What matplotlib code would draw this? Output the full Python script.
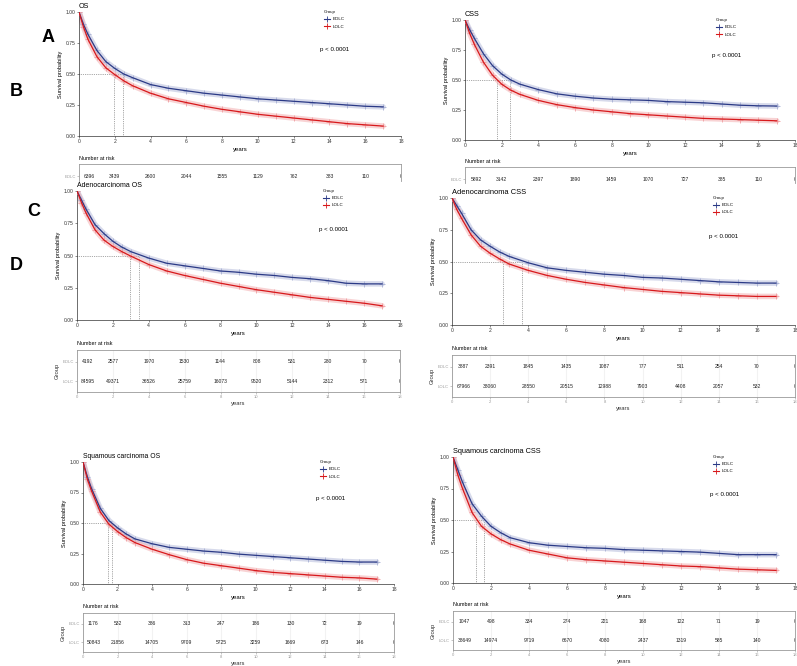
import matplotlib.pyplot as plt
from matplotlib.lines import Line2D

plt.rcParams['font.family'] = ['Liberation Sans', 'DejaVu Sans']

W, H = 797, 666

times = [0, 0.25, 0.5, 1, 1.5, 2, 2.5, 3, 4, 5, 6, 7, 8, 9, 10, 11, 12, 13, 14, 15, 16, 17]

os_eolc = [1.0, 0.90, 0.82, 0.69, 0.60, 0.545, 0.50, 0.47, 0.415, 0.385, 0.365, 0.345, 0.33, 0.315, 0.30, 0.29, 0.28, 0.27, 0.26, 0.25, 0.24, 0.235]
os_lolc = [1.0, 0.88, 0.78, 0.64, 0.55, 0.495, 0.445, 0.405, 0.345, 0.30, 0.27, 0.24, 0.215, 0.195, 0.175, 0.16, 0.145, 0.13, 0.115, 0.10, 0.09, 0.08]
css_eolc = [1.0, 0.92, 0.85, 0.72, 0.62, 0.55, 0.50, 0.465, 0.42, 0.385, 0.365, 0.35, 0.34, 0.335, 0.33, 0.32, 0.315, 0.31, 0.30, 0.29, 0.285, 0.283]
css_lolc = [1.0, 0.89, 0.80, 0.65, 0.54, 0.465, 0.415, 0.38, 0.33, 0.295, 0.27, 0.25, 0.235, 0.22, 0.21, 0.20, 0.19, 0.18, 0.175, 0.17, 0.165, 0.16]
adeno_os_eolc = [1.0, 0.93, 0.86, 0.74, 0.67, 0.61, 0.565, 0.53, 0.48, 0.44, 0.42, 0.40, 0.38, 0.37, 0.355, 0.345, 0.33, 0.32, 0.305, 0.285, 0.28, 0.28]
adeno_os_lolc = [1.0, 0.91, 0.83, 0.70, 0.62, 0.57, 0.53, 0.495, 0.43, 0.38, 0.345, 0.315, 0.285, 0.26, 0.235, 0.215, 0.195, 0.175, 0.16, 0.145, 0.13, 0.11]
adeno_css_eolc = [1.0, 0.94, 0.88, 0.75, 0.67, 0.62, 0.575, 0.54, 0.49, 0.45, 0.43, 0.415, 0.40, 0.39, 0.375, 0.37, 0.36, 0.35, 0.34, 0.335, 0.33, 0.33]
adeno_css_lolc = [1.0, 0.91, 0.84, 0.71, 0.62, 0.565, 0.52, 0.48, 0.43, 0.39, 0.36, 0.335, 0.315, 0.295, 0.28, 0.265, 0.255, 0.245, 0.235, 0.23, 0.225, 0.225]
sq_os_eolc = [1.0, 0.88, 0.78, 0.62, 0.52, 0.46, 0.41, 0.37, 0.33, 0.30, 0.285, 0.27, 0.26, 0.245, 0.235, 0.225, 0.215, 0.205, 0.195, 0.185, 0.18, 0.18]
sq_os_lolc = [1.0, 0.86, 0.76, 0.59, 0.49, 0.43, 0.38, 0.34, 0.285, 0.24, 0.20, 0.17, 0.15, 0.13, 0.11, 0.095, 0.085, 0.075, 0.065, 0.055, 0.05, 0.04]
sq_css_eolc = [1.0, 0.90, 0.80, 0.63, 0.53, 0.45, 0.40, 0.36, 0.32, 0.30, 0.29, 0.28, 0.275, 0.265, 0.26, 0.255, 0.25, 0.245, 0.235, 0.225, 0.225, 0.225]
sq_css_lolc = [1.0, 0.86, 0.75, 0.56, 0.45, 0.39, 0.345, 0.31, 0.26, 0.23, 0.20, 0.185, 0.175, 0.165, 0.155, 0.145, 0.135, 0.13, 0.12, 0.11, 0.105, 0.10]

# median survival (EOLC, LOLC)
os_med = [2.46, 1.96]
css_med = [2.47, 1.73]
adeno_os_med = [3.47, 2.93]
adeno_css_med = [3.68, 2.68]
sq_os_med = [1.68, 1.43]
sq_css_med = [1.63, 1.23]

# number at risk at 0, 2, 4, ..., 18 years
risk_times = [0, 2, 4, 6, 8, 10, 12, 14, 16, 18]
os_risk_e = [6396, 3439, 2600, 2044, 1555, 1129, 762, 383, 110, 0]
css_risk_e = [5892, 3142, 2397, 1890, 1459, 1070, 727, 385, 110, 0]
adeno_os_risk_e = [4192, 2577, 1970, 1530, 1144, 808, 531, 280, 70, 0]
adeno_os_risk_l = [84595, 49371, 36526, 25759, 16073, 9520, 5144, 2312, 571, 0]
adeno_css_risk_e = [3887, 2391, 1845, 1435, 1087, 777, 511, 254, 70, 0]
adeno_css_risk_l = [67966, 38060, 28550, 20515, 12988, 7903, 4408, 2057, 532, 0]
sq_os_risk_e = [1176, 532, 386, 313, 247, 186, 130, 72, 19, 0]
sq_os_risk_l = [50843, 21856, 14705, 9709, 5725, 3259, 1669, 673, 146, 0]
sq_css_risk_e = [1047, 498, 334, 274, 221, 168, 122, 71, 19, 0]
sq_css_risk_l = [38649, 14974, 9719, 6670, 4080, 2437, 1319, 585, 140, 0]

groups = ['EOLC', 'LOLC']
BLUE = '#2b3a86'
RED = '#d7191c'
BLUE_L = '#a7afd4'
RED_L = '#f09ea1'
GREY = '#555555'


def rect(l, t, r, b):
    return [l / W, 1 - b / H, (r - l) / W, (b - t) / H]


def km(fig, box, title, tsize, s_e, s_l, med):
    ax = fig.add_axes(rect(*box))
    for s, c, cl in [(s_e, BLUE, BLUE_L), (s_l, RED, RED_L)]:
        ax.plot(times, s, color=cl, lw=4, alpha=0.45, solid_capstyle='round', zorder=2)
        ax.plot(times, s, ls='none', marker='+', ms=5, mew=0.6, color=cl, zorder=3)
        ax.plot(times, s, color=c, lw=0.9, zorder=4)
    ax.plot([0, max(med)], [0.5, 0.5], ls=':', lw=0.5, color=GREY, zorder=1)
    for m in med:
        ax.plot([m, m], [0, 0.5], ls=':', lw=0.5, color=GREY, zorder=1)
    ax.set_xlim(0, 18)
    ax.set_ylim(0, 1)
    ax.set_xticks(range(0, 19, 2))
    ax.set_yticks([0, 0.25, 0.5, 0.75, 1.0])
    ax.set_yticklabels(['0.00', '0.25', '0.50', '0.75', '1.00'])
    for sp in ['top', 'right']:
        ax.spines[sp].set_visible(False)
    for sp in ['left', 'bottom']:
        ax.spines[sp].set_linewidth(0.5)
        ax.spines[sp].set_color('#333333')
    ax.tick_params(labelsize=3.6, length=1.5, width=0.4, pad=1, colors='#333333')
    ax.set_xlabel('years', fontsize=4.3, labelpad=1.5)
    ax.set_ylabel('Survival probability', fontsize=4.1, labelpad=2)
    ax.text(0, 1.0 + 2.0 / (box[3] - box[1]), title, transform=ax.transAxes, fontsize=tsize,
            ha='left', va='bottom')
    handles = [Line2D([], [], color=BLUE, marker='+', ms=4, mew=0.6, lw=0.8),
               Line2D([], [], color=RED, marker='+', ms=4, mew=0.6, lw=0.8)]
    leg = ax.legend(handles, groups, title='Group', loc='upper left', bbox_to_anchor=(0.755, 1.03),
                    frameon=False, fontsize=3.2, title_fontsize=3.2, handlelength=1.4,
                    labelspacing=0.7, handletextpad=0.6, borderaxespad=0)
    leg._legend_box.align = 'left'
    ax.text(0.75, 0.70, 'p < 0.0001', transform=ax.transAxes, fontsize=4.4, ha='left', va='center')
    return ax


def risk(fig, box, r_e, r_l, partial=False):
    ax = fig.add_axes(rect(*box))
    xs = [0.6] + risk_times[1:]
    for y, vals in [(2, r_e), (1, r_l)]:
        if vals is None:
            continue
        for x, v in zip(xs, vals):
            ax.text(x, y, str(v), fontsize=3.6, ha='center', va='center', color='#222222', clip_on=True)
    ax.set_xlim(0, 18)
    for sp in ax.spines.values():
        sp.set_color('#9a9a9a')
        sp.set_linewidth(0.6)
    ax.tick_params(labelsize=3, length=1.5, width=0.4, pad=1, colors='#999999')
    if partial:
        h = box[3] - box[1]
        ax.set_ylim(2.6 - h / 20.0, 2.6)
        ax.spines['bottom'].set_visible(False)
        ax.set_xticks([])
        ax.set_yticks([2])
        ax.set_yticklabels(['EOLC'])
    else:
        ax.set_ylim(0.45, 2.6)
        ax.set_xticks(range(0, 19, 2))
        ax.set_yticks([2, 1])
        ax.set_yticklabels(groups)
        ax.set_xlabel('years', fontsize=4.2, labelpad=1, color='#333333')
        ax.set_ylabel('Group', fontsize=4.2, labelpad=2, color='#333333')
        for x in risk_times:
            ax.axvline(x, color='#f2f2f2', lw=0.8, zorder=0)
    ax.text(0, 1.0 + 3.5 / (box[3] - box[1]), 'Number at risk', transform=ax.transAxes,
            fontsize=3.9, ha='left', va='bottom')
    return ax


fig = plt.figure(figsize=(W / 100, H / 100), dpi=100)

km(fig, (79, 12, 401, 136), 'OS', 5.2, os_eolc, os_lolc, os_med)
risk(fig, (79, 164, 401, 181), os_risk_e, None, partial=True)
km(fig, (465, 20, 795, 140), 'CSS', 5.2, css_eolc, css_lolc, css_med)
risk(fig, (465, 167, 795, 183), css_risk_e, None, partial=True)

km(fig, (77, 191, 400, 320), 'Adenocarcinoma OS', 5.0, adeno_os_eolc, adeno_os_lolc, adeno_os_med)
risk(fig, (77, 350, 400, 392), adeno_os_risk_e, adeno_os_risk_l)
km(fig, (452, 198, 795, 325), 'Adenocarcinoma CSS', 5.4, adeno_css_eolc, adeno_css_lolc, adeno_css_med)
risk(fig, (452, 355, 795, 397), adeno_css_risk_e, adeno_css_risk_l)

km(fig, (83, 462, 394, 584), 'Squamous carcinoma OS', 4.9, sq_os_eolc, sq_os_lolc, sq_os_med)
risk(fig, (83, 613, 394, 652), sq_os_risk_e, sq_os_risk_l)
km(fig, (453, 457, 795, 583), 'Squamous carcinoma CSS', 5.3, sq_css_eolc, sq_css_lolc, sq_css_med)
risk(fig, (453, 611, 795, 650), sq_css_risk_e, sq_css_risk_l)

for letter, x, y in [('A', 48, 38), ('B', 16, 92), ('C', 34, 212), ('D', 16, 265)]:
    fig.text(x / W, 1 - y / H, letter, fontsize=13, fontweight='bold', ha='center', va='center')

fig.savefig('out.png', dpi=100)
